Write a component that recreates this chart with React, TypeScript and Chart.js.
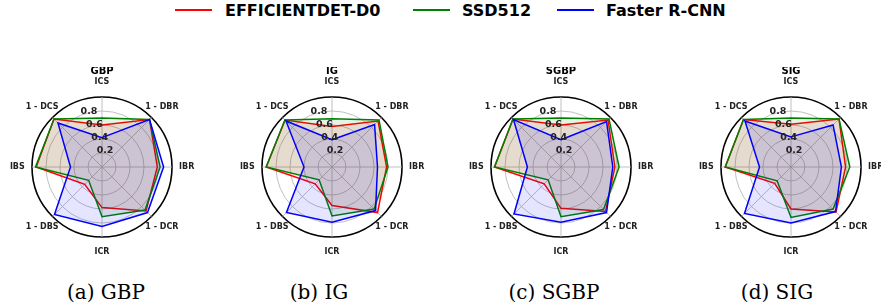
import React, { useEffect, useRef } from "react";
import { Chart, registerables } from "chart.js";

Chart.register(...registerables);

// ---------- data ----------
const axisLabels = ["ICS", "1 - DBR", "IBR", "1 - DCR", "ICR", "1 - DBS", "IBS", "1 - DCS"];
const seriesNames = ["EFFICIENTDET-D0", "SSD512", "Faster R-CNN"];
const tickValues = [0.2, 0.4, 0.6, 0.8];
const tickLabels = ["0.2", "0.4", "0.6", "0.8"];
const panelTitles = ["GBP", "IG", "SGBP", "SIG"];
const captions = ["(a) GBP", "(b) IG", "(c) SGBP", "(d) SIG"];

const gbpEfficientDet = [0.6, 0.96, 0.79, 0.89, 0.58, 0.35, 0.94, 0.97];
const gbpSSD = [0.7, 0.96, 0.83, 0.87, 0.71, 0.27, 0.95, 0.97];
const gbpFasterRCNN = [0.42, 0.96, 0.88, 0.92, 0.85, 0.96, 0.45, 0.89];

const igEfficientDet = [0.58, 0.93, 0.78, 0.92, 0.55, 0.34, 0.94, 0.95];
const igSSD = [0.69, 0.95, 0.8, 0.85, 0.7, 0.26, 0.94, 0.95];
const igFasterRCNN = [0.39, 0.86, 0.65, 0.88, 0.79, 0.92, 0.4, 0.93];

const sgbpEfficientDet = [0.6, 0.95, 0.77, 0.9, 0.59, 0.34, 0.95, 0.97];
const sgbpSSD = [0.7, 0.97, 0.83, 0.86, 0.71, 0.26, 0.95, 0.97];
const sgbpFasterRCNN = [0.39, 0.92, 0.74, 0.92, 0.79, 0.95, 0.48, 0.96];

const sigEfficientDet = [0.61, 0.97, 0.78, 0.91, 0.6, 0.33, 0.94, 0.96];
const sigSSD = [0.7, 0.97, 0.84, 0.85, 0.72, 0.28, 0.94, 0.96];
const sigFasterRCNN = [0.43, 0.85, 0.72, 0.9, 0.8, 0.94, 0.45, 0.93];

const panelData = [
  [gbpEfficientDet, gbpSSD, gbpFasterRCNN],
  [igEfficientDet, igSSD, igFasterRCNN],
  [sgbpEfficientDet, sgbpSSD, sgbpFasterRCNN],
  [sigEfficientDet, sigSSD, sigFasterRCNN],
];

// ---------- styles ----------
const lineColors = ["#ff0000", "#008000", "#0000ff"];
const fillColors = ["rgba(255,0,0,0.1)", "rgba(0,128,0,0.1)", "rgba(0,0,255,0.1)"];
const canvasLefts = [2, 232, 461, 691];
const captionCenters = [106, 319, 554, 777];
const CANVAS_W = 200;
const CANVAS_H = 200;
const CANVAS_TOP = 67;

const radarText = {
  id: "radarText",
  afterDatasetsDraw(chart: any, _args: any, opts: any) {
    const scale = chart.scales.r;
    const ctx = chart.ctx;
    ctx.save();
    ctx.fillStyle = "#222222";
    // radial tick labels
    ctx.font = "bold 9.5px 'DejaVu Sans'";
    ctx.textAlign = "left";
    ctx.textBaseline = "bottom";
    const a = (22.5 * Math.PI) / 180;
    tickValues.forEach((v, i) => {
      const r = scale.getDistanceFromCenterForValue(v);
      ctx.fillText(tickLabels[i], scale.xCenter - r * Math.sin(a), scale.yCenter - r * Math.cos(a) + 1);
    });
    // point labels
    ctx.font = "bold 8px 'DejaVu Sans'";
    ctx.textAlign = "center";
    ctx.textBaseline = "middle";
    axisLabels.forEach((lab, i) => {
      const p = scale.getPointPosition(i, scale.drawingArea * 1.21);
      ctx.fillText(lab, p.x, p.y);
    });
    // panel title
    ctx.fillStyle = "#000000";
    ctx.font = "bold 10px 'DejaVu Sans'";
    ctx.fillText(opts.title, scale.xCenter, scale.yCenter - scale.drawingArea * 1.36);
    ctx.restore();
  },
};

const isOne = (v: number) => Math.abs(v - 1) < 1e-6;

function RadarPanel({ index }: { index: number }) {
  const ref = useRef<HTMLCanvasElement | null>(null);
  useEffect(() => {
    if (!ref.current) return;
    const chart = new Chart(ref.current, {
      type: "radar",
      data: {
        labels: axisLabels,
        datasets: seriesNames.map((name, s) => ({
          label: name,
          data: panelData[index][s],
          borderColor: lineColors[s],
          backgroundColor: fillColors[s],
          borderWidth: 1.5,
          pointRadius: 0,
          fill: true,
          order: 3 - s,
        })),
      },
      options: {
        responsive: false,
        animation: false,
        layout: { padding: 30 },
        plugins: {
          legend: { display: false },
          tooltip: { enabled: false },
          radarText: { title: panelTitles[index] },
        } as any,
        scales: {
          r: {
            min: 0,
            max: 1,
            ticks: { display: false, stepSize: 0.2 },
            pointLabels: { display: false },
            grid: {
              circular: true,
              color: (c: any) => (isOne(c.tick.value) ? "#000000" : "#b0b0b0"),
              lineWidth: (c: any) => (isOne(c.tick.value) ? 1.6 : 0.8),
            },
            angleLines: { color: "#b0b0b0", lineWidth: 0.8 },
          },
        },
      },
      plugins: [radarText],
    });
    return () => chart.destroy();
  }, [index]);
  return (
    <canvas
      ref={ref}
      width={CANVAS_W}
      height={CANVAS_H}
      style={{ position: "absolute", left: canvasLefts[index], top: CANVAS_TOP, width: CANVAS_W, height: CANVAS_H }}
    />
  );
}

const legendLines = [175, 413, 557];
const legendTexts = [225, 462, 606];

export default function App() {
  return (
    <div
      style={{
        position: "absolute",
        left: 0,
        top: 0,
        width: 881,
        height: 307,
        overflow: "hidden",
        background: "#ffffff",
      }}
    >
      {seriesNames.map((name, s) => (
        <React.Fragment key={name}>
          <div
            style={{
              position: "absolute",
              left: legendLines[s],
              top: 9,
              width: 37,
              height: 2,
              background: lineColors[s],
            }}
          />
          <div
            style={{
              position: "absolute",
              left: legendTexts[s],
              top: 1,
              lineHeight: "20px",
              font: "bold 16px 'DejaVu Sans'",
              color: "#000",
              whiteSpace: "nowrap",
            }}
          >
            {name}
          </div>
        </React.Fragment>
      ))}
      {panelTitles.map((_, i) => (
        <RadarPanel key={i} index={i} />
      ))}
      {captions.map((c, i) => (
        <div
          key={c}
          style={{
            position: "absolute",
            left: captionCenters[i] - 100,
            width: 200,
            top: 280,
            lineHeight: "24px",
            textAlign: "center",
            font: "20px 'DejaVu Serif'",
            color: "#000",
            whiteSpace: "nowrap",
          }}
        >
          {c}
        </div>
      ))}
    </div>
  );
}
